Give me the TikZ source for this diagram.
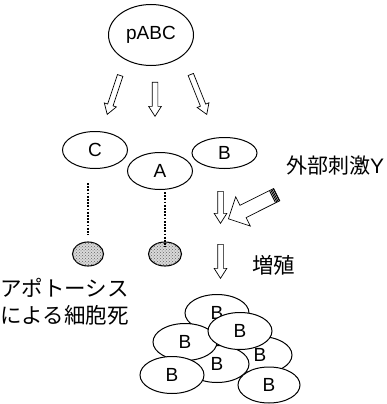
\documentclass[tikz,border=0pt]{standalone}
\usepackage{fontspec}
\setmainfont{Liberation Sans}
\newfontfamily\cjk{Noto Sans CJK JP}
\usetikzlibrary{shapes.arrows,shapes.geometric,calc,patterns}
\begin{document}
\begin{tikzpicture}[x=1pt,y=-1pt,
  cell/.style={ellipse, draw, line width=1pt, fill=white, inner sep=0pt,
    minimum width=64pt, minimum height=37pt, font=\fontsize{19}{21}\selectfont},
  dead/.style={ellipse, draw, line width=1.1pt, fill=gray!30,
    postaction={pattern=crosshatch dots, pattern color=black!60}, inner sep=0pt,
    minimum width=31pt, minimum height=24pt},
  dotline/.style={line width=1.8pt, dash pattern=on 1.7pt off 1.5pt},
  barrow/.style={single arrow, draw, fill=white, line width=0.7pt, inner xsep=0pt,
    single arrow head indent=0pt, anchor=tip},
  sarrow/.style={barrow, inner ysep=2.5pt, single arrow head extend=3.5pt, single arrow tip angle=65},
  jtext/.style={font=\cjk\fontsize{21.5}{27}\selectfont, inner sep=0pt}
]
\useasboundingbox (0,0) rectangle (387,404);

% top
\node[cell, minimum width=85pt, minimum height=61pt] (pabc) at (151,35) {pABC};

\node[sarrow, minimum height=41pt, rotate=251.6] (a1) at (107,115) {};
\node[sarrow, minimum height=34pt, rotate=270] (a2) at (155,117) {};
\node[sarrow, minimum height=43pt, rotate=291.8] (a3) at (207,115) {};

% second row
\node[cell, minimum width=65pt, minimum height=37pt] (C) at (95,150) {C};
\node[cell, minimum width=65pt, minimum height=37pt] (A) at (160,171) {A};
\node[cell, minimum width=65pt, minimum height=31pt] (B) at (224.5,153) {B};

% dead cells
\node[dead] (dC) at (88,254) {};
\node[dead, minimum width=33pt] (dA) at (165,254) {};
\draw[dotline] ($(C.south -| dC.north)+(0,14)$) -- ($(dC.north)+(0,-7)$);
\draw[dotline] ($(A.south -| dA.north)+(0,2)$) -- ($(dA.north)+(0,6)$);

\node[jtext, anchor=north west, align=left] (apo) at (0,278) {アポトーシス\\[0pt]による細胞死};

% stimulus
\node[jtext, font=\cjk\fontsize{21}{27}\selectfont, anchor=west] (ext) at (286,166) {外部刺激{\rmfamily Y}};
\node[barrow, inner ysep=6.5pt, single arrow head extend=9.5pt, single arrow tip angle=90,
  minimum height=54pt, rotate=206.6] (stim) at (228,219) {};
\begin{scope}[shift={(stim.tail)}, rotate=206.6]
  \foreach \s in {0.8,2.2,3.6,5.0}
    \draw[line width=0.9pt] (\s,-6.5) -- (\s,6.5);
\end{scope}

\node[sarrow, minimum height=32pt, rotate=270] (a4) at (220.5,224) {};
\node[sarrow, minimum height=34pt, rotate=270] (a5) at (220.5,279) {};
\node[jtext, anchor=west] (zo) at (252,265) {増殖};

% cluster of B
\node[cell] (b4) at (260,355) {B};
\node[cell] (b5) at (217,364) {B};
\node[cell] (b1) at (217,313) {B};
\node[cell] (b3) at (185,342) {B};
\node[cell] (b2) at (240,331) {B};
\node[cell] (b6) at (172,375) {B};
\node[cell, minimum width=62pt, minimum height=36pt] (b7) at (269,385) {B};
\end{tikzpicture}
\end{document}
